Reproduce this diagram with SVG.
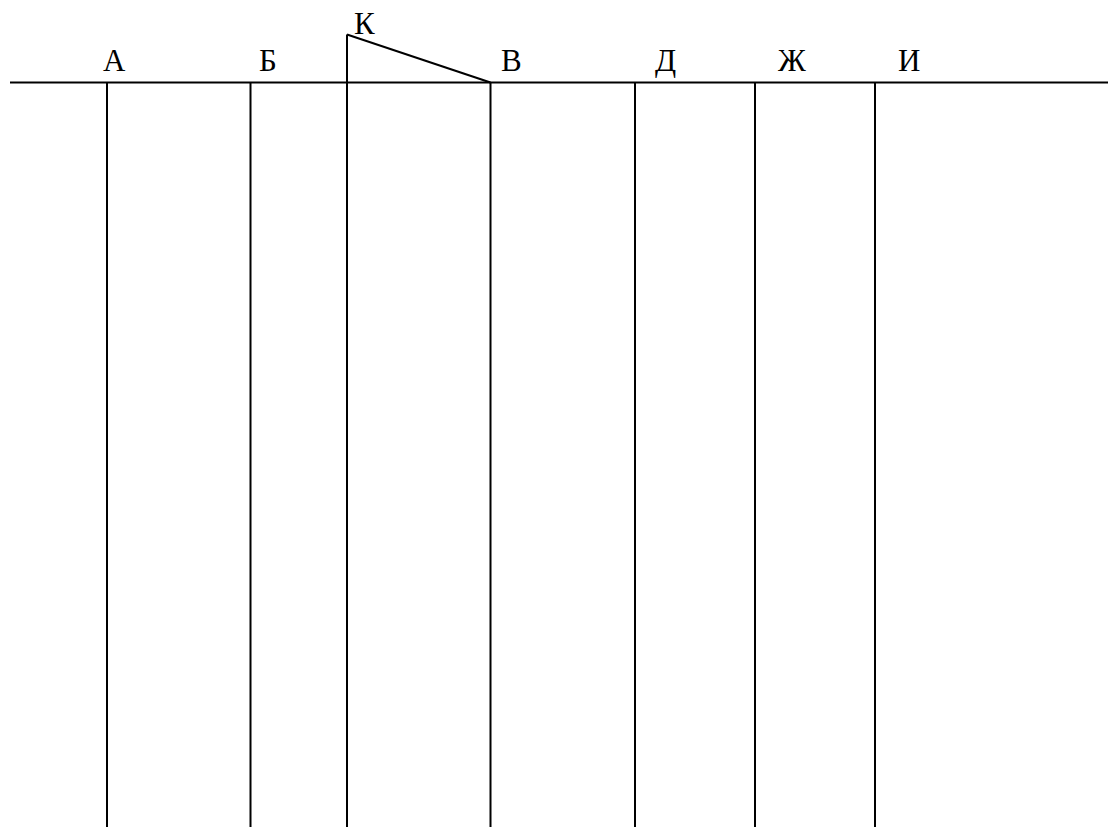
<svg xmlns="http://www.w3.org/2000/svg" width="1108" height="827" viewBox="0 0 1108 827">
<style>
.ln{stroke:#000;stroke-width:2;fill:none}
.lb{font-family:'Liberation Serif','Times New Roman',serif;font-size:31px;fill:#000}
</style>
<rect width="1108" height="827" fill="#fff"/>
<g id="connectors">
<line class="ln" x1="10" y1="82.5" x2="1108" y2="82.5"/>
<line class="ln" x1="107" y1="82.5" x2="107" y2="827"/>
<line class="ln" x1="250.5" y1="82.5" x2="250.5" y2="827"/>
<line class="ln" x1="347" y1="34.5" x2="347" y2="827"/>
<line class="ln" x1="490.5" y1="82.5" x2="490.5" y2="827"/>
<line class="ln" x1="635" y1="82.5" x2="635" y2="827"/>
<line class="ln" x1="755" y1="82.5" x2="755" y2="827"/>
<line class="ln" x1="875" y1="82.5" x2="875" y2="827"/>
<line class="ln" x1="347" y1="34.5" x2="490.5" y2="82.5"/>
</g>
<g id="node-A"><text class="lb" x="103" y="71">А</text></g>
<g id="node-B"><text class="lb" x="259" y="71">Б</text></g>
<g id="node-K"><text class="lb" x="354" y="34">К</text></g>
<g id="node-V"><text class="lb" x="501" y="71">В</text></g>
<g id="node-D"><text class="lb" x="655" y="71">Д</text></g>
<g id="node-Zh"><text class="lb" x="778" y="71">Ж</text></g>
<g id="node-I"><text class="lb" x="898" y="71">И</text></g>
</svg>
